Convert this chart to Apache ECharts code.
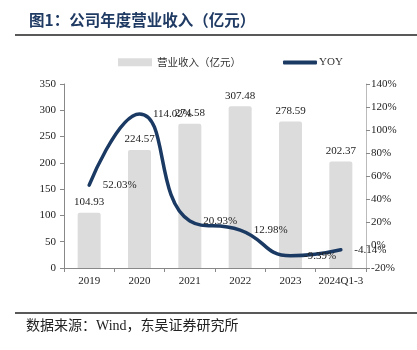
<!DOCTYPE html>
<html>
<head>
<meta charset="utf-8">
<script src="https://cdn.jsdelivr.net/npm/echarts@6/dist/echarts.min.js"></script>
<style>
  html, body { margin: 0; padding: 0; background: #fff; }
  #chart { width: 417px; height: 350px; }
</style>
</head>
<body>
<div id="chart"></div>
<script>
const categories = ['2019', '2020', '2021', '2022', '2023', '2024Q1-3']
const revenue = [104.93, 224.57, 274.58, 307.48, 278.59, 202.37]
const yoy = [52.03, 114.02, 20.93, 12.98, -9.39, -4.14]

const serif = '"Liberation Serif", "Noto Sans CJK SC", serif'
const cjk = '"Noto Sans CJK SC", sans-serif'
const navy = '#1b3a63'

const chart = echarts.init(document.getElementById('chart'))

chart.setOption({
  animation: false,
  title: {
    text: '图1：公司年度营业收入（亿元）',
    left: 24,
    top: 7,
    textStyle: { fontFamily: cjk, fontSize: 15.5, fontWeight: 'bold', color: '#1f3a63' }
  },
  legend: [
    {
      left: 113,
      top: 52,
      itemGap: 4,
      itemWidth: 34,
      itemHeight: 8,
      textStyle: { fontFamily: cjk, fontSize: 10.5, color: '#333' },
      data: [{ name: '营业收入（亿元）', icon: 'rect' }]
    },
    {
      left: 278,
      top: 52,
      itemGap: 4,
      itemWidth: 34,
      itemHeight: 4,
      textStyle: { fontFamily: serif, fontSize: 11, color: '#333', padding: [0, 0, 0, -3] },
      data: [{ name: 'YOY', icon: 'roundRect' }]
    }
  ],
  grid: { left: 64, right: 51, top: 84, bottom: 82 },
  xAxis: {
    type: 'category',
    data: categories,
    axisLine: { lineStyle: { color: '#888' } },
    axisTick: { show: true, length: 4, lineStyle: { color: '#888' } },
    axisLabel: { interval: 0, fontFamily: serif, fontSize: 11, color: '#222', margin: 8 }
  },
  yAxis: [
    {
      type: 'value',
      min: 0,
      max: 350,
      interval: 50,
      splitLine: { show: false },
      axisLine: { show: true, lineStyle: { color: '#888' } },
      axisTick: { show: true, length: 4, lineStyle: { color: '#888' } },
      axisLabel: { fontFamily: serif, fontSize: 11, color: '#222', margin: 8 }
    },
    {
      type: 'value',
      min: -20,
      max: 140,
      interval: 20,
      splitLine: { show: false },
      axisLine: { show: true, lineStyle: { color: '#bbb' } },
      axisTick: { show: true, length: 4, lineStyle: { color: '#888' } },
      axisLabel: { fontFamily: serif, fontSize: 11, color: '#222', margin: 5, formatter: '{value}%' }
    }
  ],
  series: [
    {
      name: '营业收入（亿元）',
      type: 'bar',
      data: revenue,
      barWidth: 23,
      itemStyle: { color: '#dcdcdc', borderRadius: [2, 2, 0, 0] },
      label: {
        show: true,
        position: 'top',
        distance: 5,
        fontFamily: serif,
        fontSize: 11,
        color: '#222'
      }
    },
    {
      name: 'YOY',
      type: 'line',
      yAxisIndex: 1,
      data: yoy,
      smooth: 0.5,
      symbol: 'circle',
      symbolSize: 1,
      showSymbol: true,
      lineStyle: { color: navy, width: 3.5, cap: 'round' },
      itemStyle: { color: navy },
      label: {
        show: true,
        position: 'right',
        distance: 13,
        fontFamily: serif,
        fontSize: 11,
        color: '#222',
        formatter: p => p.value.toFixed(2) + '%'
      },
      z: 5
    }
  ],
  graphic: [
    {
      type: 'line',
      shape: { x1: 15, y1: 35, x2: 417, y2: 35 },
      style: { stroke: '#222', lineWidth: 1.5 }
    },
    {
      type: 'line',
      shape: { x1: 15, y1: 313, x2: 417, y2: 313 },
      style: { stroke: '#222', lineWidth: 1.5 }
    },
    {
      type: 'text',
      left: 26,
      top: 319,
      style: { text: '数据来源：Wind，东吴证券研究所', font: '14px ' + serif, fill: '#222' }
    }
  ]
})
</script>
</body>
</html>
